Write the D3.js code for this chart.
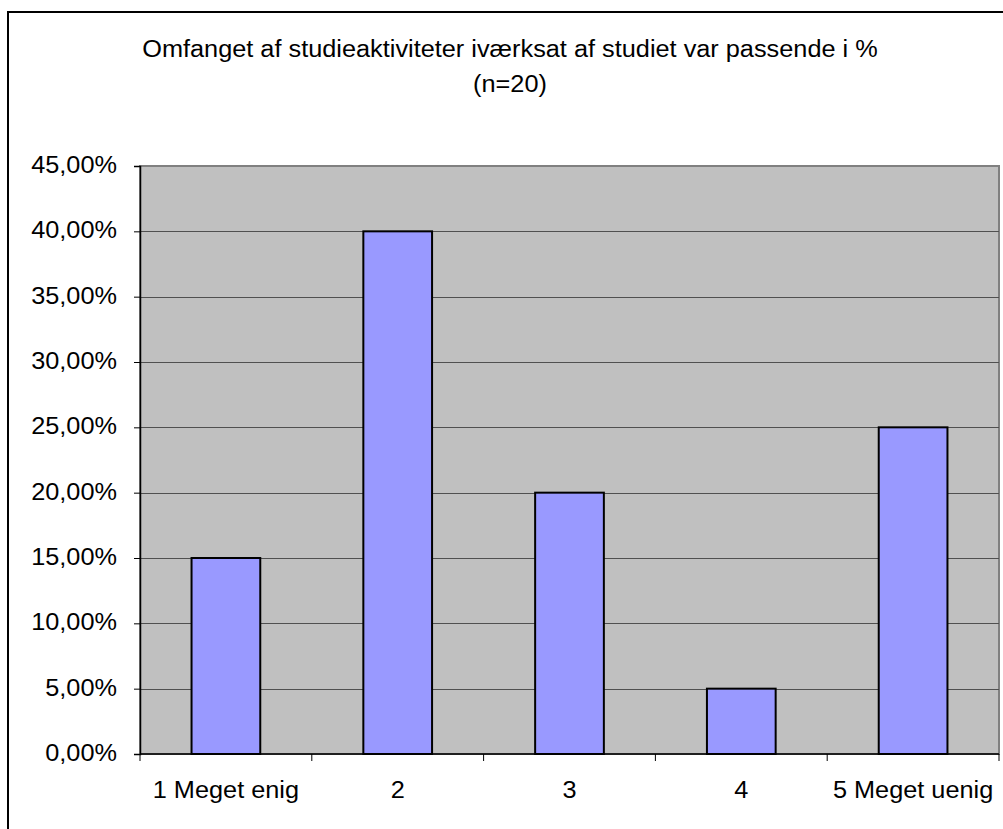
<!DOCTYPE html>
<html><head><meta charset="utf-8">
<script src="https://cdn.jsdelivr.net/npm/d3@7"></script>
<style>body{margin:0;background:#fff}svg{display:block}</style>
</head><body>
<script>
const categories = ["1 Meget enig", "2", "3", "4", "5 Meget uenig"];
const values = [0.15, 0.40, 0.20, 0.05, 0.25];
const yTicks = [0, 0.05, 0.10, 0.15, 0.20, 0.25, 0.30, 0.35, 0.40, 0.45];
const titleLines = ["Omfanget af studieaktiviteter iværksat af studiet var passende i %", "(n=20)"];

const W = 1003, H = 829;
const m = {left: 140, right: 4, top: 166, bottom: 75};
const svg = d3.select("body").append("svg").attr("width", W).attr("height", H);
const font = "'Liberation Sans', Arial, sans-serif";
const FS = 23, STRETCH = 1.1;
function stretch(sel) {
  sel.each(function() {
    const w = this.getComputedTextLength();
    if (w > 0) d3.select(this).attr("textLength", w * STRETCH).attr("lengthAdjust", "spacingAndGlyphs");
  });
}

// outer border
svg.append("rect").attr("x", 8).attr("y", 12).attr("width", W + 10).attr("height", H + 10)
  .attr("fill", "none").attr("stroke", "#000").attr("stroke-width", 2);

svg.selectAll("text.title").data(titleLines).join("text")
  .attr("class", "title")
  .attr("x", 510).attr("y", (d, i) => 57 + i * 35)
  .attr("text-anchor", "middle").attr("font-family", font).attr("font-size", FS)
  .text(d => d).call(stretch);

const x = d3.scaleBand().domain(categories).range([m.left, W - m.right]).paddingInner(0).paddingOuter(0);
const y = d3.scaleLinear().domain([0, 0.45]).range([H - m.bottom, m.top]);

svg.append("rect").attr("x", m.left).attr("y", m.top)
  .attr("width", W - m.right - m.left).attr("height", H - m.bottom - m.top)
  .attr("fill", "#c0c0c0").attr("stroke", "#808080").attr("stroke-width", 2);

svg.selectAll("line.grid").data(yTicks.filter(t => t > 0 && t < 0.45)).join("line")
  .attr("x1", m.left).attr("x2", W - m.right)
  .attr("y1", d => Math.round(y(d)) + 0.5).attr("y2", d => Math.round(y(d)) + 0.5)
  .attr("stroke", "#505050").attr("stroke-width", 1);

const bw = x.step() * 0.4;
svg.selectAll("rect.bar").data(values).join("rect")
  .attr("x", (d, i) => x(categories[i]) + (x.step() - bw) / 2)
  .attr("y", d => y(d)).attr("width", bw).attr("height", d => y(0) - y(d))
  .attr("fill", "#9999ff").attr("stroke", "#000").attr("stroke-width", 2);

const fmt = v => (v * 100).toFixed(2).replace(".", ",") + "%";
const yAxis = d3.axisLeft(y).tickValues(yTicks).tickFormat(fmt).tickSize(6).tickPadding(17);
const ga = svg.append("g").attr("transform", `translate(${m.left},0)`).call(yAxis);
ga.select(".domain").attr("stroke", "#000").attr("stroke-width", 1.5);
ga.selectAll(".tick line").attr("stroke", "#000");
ga.selectAll("text").attr("font-family", font).attr("font-size", FS).attr("fill", "#000").attr("dy", "0.28em").call(stretch);

// x axis line and ticks at category boundaries
const boundaries = categories.map(c => x(c)).concat([x(categories[categories.length - 1]) + x.step()]);
svg.append("line").attr("x1", m.left).attr("x2", W - m.right)
  .attr("y1", y(0)).attr("y2", y(0)).attr("stroke", "#000").attr("stroke-width", 1.5);
svg.selectAll("line.xt").data(boundaries).join("line")
  .attr("x1", d => d).attr("x2", d => d).attr("y1", y(0)).attr("y2", y(0) + 7)
  .attr("stroke", "#000");
svg.selectAll("text.xl").data(categories).join("text")
  .attr("class", "xl")
  .attr("x", d => x(d) + x.step() / 2).attr("y", y(0) + 44)
  .attr("text-anchor", "middle")
  .attr("font-family", font).attr("font-size", FS).text(d => d).call(stretch);
</script>
</body></html>
